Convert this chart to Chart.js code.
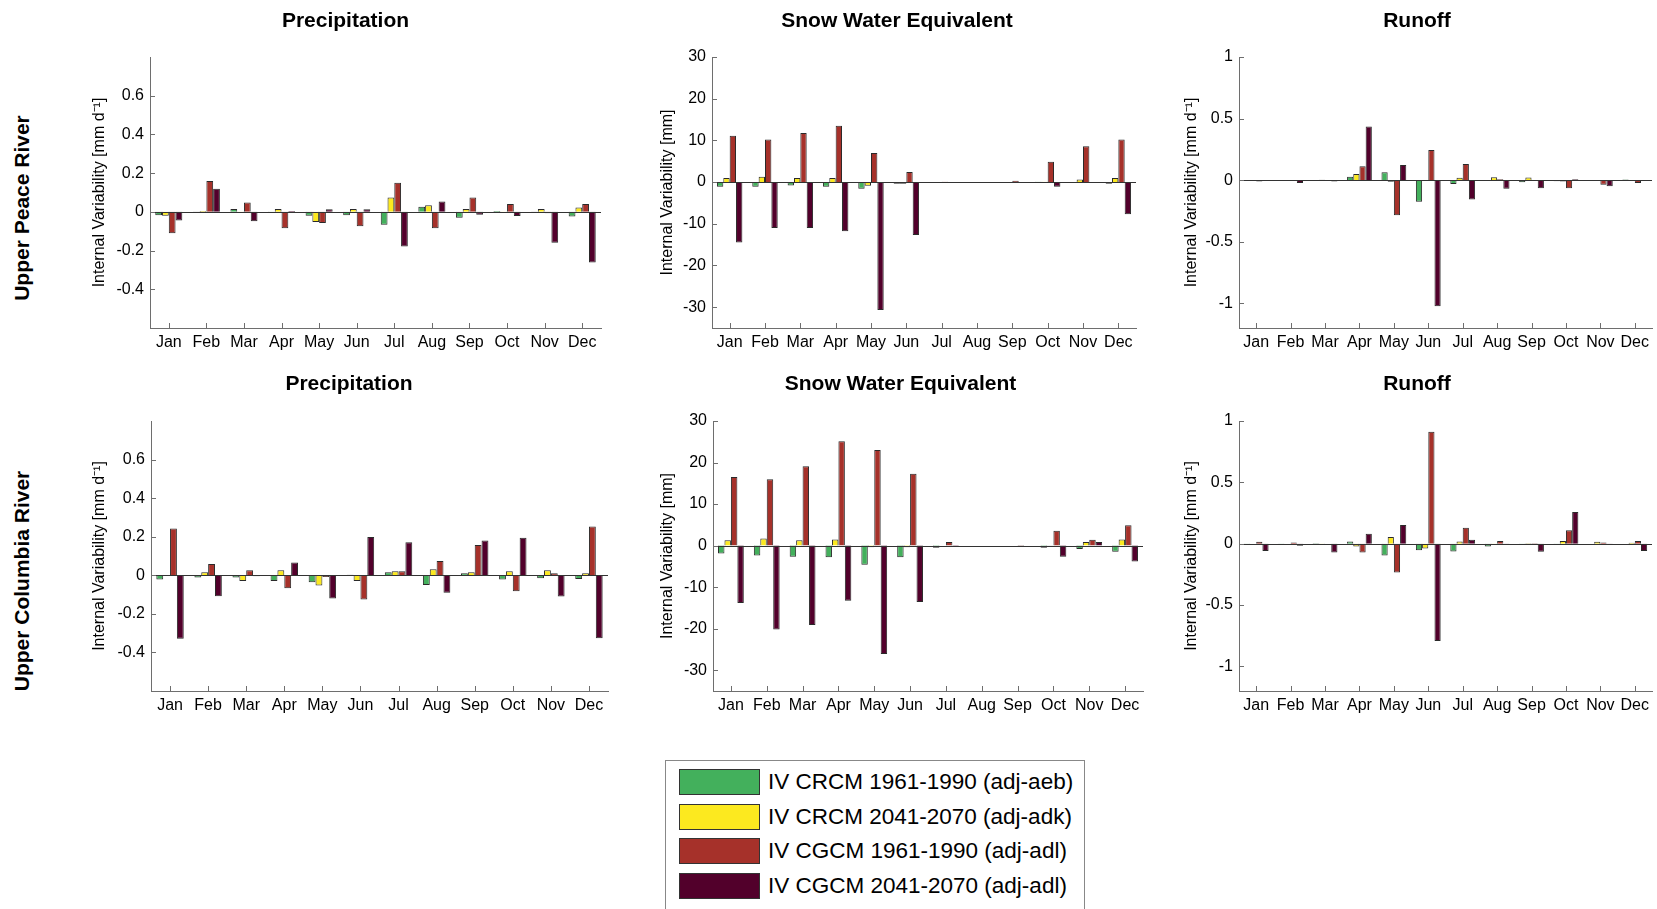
<!DOCTYPE html>
<html>
<head>
<meta charset="utf-8">
<script src="https://cdn.jsdelivr.net/npm/chart.js@4.4.0/dist/chart.umd.min.js"></script>
<style>
  body { margin: 0; width: 1657px; height: 909px; overflow: hidden; position: relative; background: #fff;
         font-family: "Liberation Sans", Arial, Helvetica, sans-serif; }
  canvas { position: absolute; }
  .rowlab { position: absolute; font-weight: bold; font-size: 21px; white-space: nowrap; color: #000;
            transform: translate(-50%, -50%) rotate(-90deg); }
  #legend { position: absolute; left: 665px; top: 760px; width: 420px; height: 170px; border: 1px solid #888;
            box-sizing: border-box; background: #fff; }
  .sw { position: absolute; left: 13px; width: 81px; height: 26px; box-sizing: border-box; border: 1px solid #333; }
  .lt { position: absolute; left: 102px; height: 26px; line-height: 26px; font-size: 22.5px; white-space: nowrap; color: #000; }
</style>
</head>
<body>
<div class="rowlab" style="left:22px;top:208px">Upper Peace River</div>
<div class="rowlab" style="left:22px;top:581px">Upper Columbia River</div>
<div id="legend"></div>
<script>
// months + series
const months = ['Jan', 'Feb', 'Mar', 'Apr', 'May', 'Jun', 'Jul', 'Aug', 'Sep', 'Oct', 'Nov', 'Dec'];
const seriesLabels = ['IV CRCM 1961-1990 (adj-aeb)', 'IV CRCM 2041-2070 (adj-adk)',
                      'IV CGCM 1961-1990 (adj-adl)', 'IV CGCM 2041-2070 (adj-adl)'];

// tick labels
const precipTicks = [-0.4, -0.2, 0, 0.2, 0.4, 0.6];
const sweTicks = [-30, -20, -10, 0, 10, 20, 30];
const runoffTicks = [-1, -0.5, 0, 0.5, 1];

// Upper Peace River - precipitation [mm/d]
const peacePrecipCrcmHist = [-0.017, 0.002, 0.015, -0.003, -0.02, -0.017, -0.067, 0.026, -0.031, 0.005, 0.002, -0.024];
const peacePrecipCrcmFut  = [-0.02, 0.005, -0.003, 0.015, -0.052, 0.015, 0.074, 0.034, 0.015, -0.003, 0.015, 0.022];
const peacePrecipCgcmHist = [-0.11, 0.16, 0.048, -0.085, -0.058, -0.074, 0.15, -0.085, 0.074, 0.041, -0.007, 0.041];
const peacePrecipCgcmFut  = [-0.045, 0.12, -0.048, 0.005, 0.013, 0.013, -0.179, 0.053, -0.015, -0.022, -0.159, -0.262];

// Upper Peace River - snow water equivalent [mm]
const peaceSweCrcmHist = [-1.1, -1.1, -0.8, -1.1, -1.6, -0.4, 0, 0, 0, 0.1, -0.2, -0.4];
const peaceSweCrcmFut  = [1.0, 1.3, 1.0, 1.0, -0.9, -0.4, 0, 0, 0, 0.1, 0.6, 1.0];
const peaceSweCgcmHist = [11.1, 10.2, 11.8, 13.5, 7.0, 2.4, 0.1, 0, 0.3, 4.9, 8.6, 10.2];
const peaceSweCgcmFut  = [-14.5, -11.0, -11.0, -11.8, -30.7, -12.7, -0.15, -0.15, -0.15, -1.1, 0, -7.7];

// Upper Peace River - runoff [mm/d]
const peaceRunCrcmHist = [0, 0, 0, 0.027, 0.065, -0.176, -0.03, 0, -0.016, -0.008, 0, 0.005];
const peaceRunCrcmFut  = [0, 0, 0.003, 0.051, -0.013, -0.005, 0.019, 0.024, 0.022, -0.011, 0, 0];
const peaceRunCgcmHist = [-0.01, 0, 0, 0.114, -0.284, 0.246, 0.132, 0.008, -0.005, -0.065, -0.038, -0.022];
const peaceRunCgcmFut  = [-0.005, -0.022, -0.01, 0.435, 0.124, -1.024, -0.157, -0.07, -0.065, 0.008, -0.049, -0.005];

// Upper Columbia River - precipitation [mm/d]
const columbiaPrecipCrcmHist = [-0.022, -0.012, -0.012, -0.029, -0.036, 0.003, 0.016, -0.05, 0.01, -0.022, -0.016, -0.019];
const columbiaPrecipCrcmFut  = [0.001, 0.016, -0.029, 0.026, -0.053, -0.029, 0.021, 0.031, 0.016, 0.021, 0.026, 0.01];
const columbiaPrecipCgcmHist = [0.243, 0.059, 0.026, -0.067, -0.009, -0.126, 0.021, 0.074, 0.157, -0.083, 0.01, 0.253];
const columbiaPrecipCgcmFut  = [-0.329, -0.109, -0.005, 0.066, -0.121, 0.198, 0.171, -0.09, 0.181, 0.195, -0.11, -0.326];

// Upper Columbia River - snow water equivalent [mm]
const columbiaSweCrcmHist = [-1.9, -2.4, -2.7, -2.8, -4.6, -2.8, -0.5, 0, 0, -0.5, -0.8, -1.5];
const columbiaSweCrcmFut  = [1.3, 1.7, 1.3, 1.5, -0.4, -0.4, 0, 0, 0, 0.1, 0.9, 1.5];
const columbiaSweCgcmHist = [16.5, 16.0, 19.1, 25.1, 23.0, 17.3, 0.9, 0, -0.1, 3.6, 1.4, 4.9];
const columbiaSweCgcmFut  = [-13.8, -20.2, -19.1, -13.3, -26.1, -13.6, -0.3, 0, 0, -2.7, 0.9, -3.8];

// Upper Columbia River - runoff [mm/d]
const columbiaRunCrcmHist = [-0.005, -0.003, 0.003, 0.019, -0.095, -0.054, -0.063, -0.022, -0.011, -0.005, 0, 0];
const columbiaRunCrcmFut  = [0, 0, -0.008, -0.022, 0.054, -0.038, 0.019, -0.003, 0.003, 0.022, 0.016, 0.008];
const columbiaRunCgcmHist = [0.016, 0.011, 0, -0.071, -0.234, 0.913, 0.13, 0.022, 0.003, 0.109, 0.011, 0.022];
const columbiaRunCgcmFut  = [-0.06, -0.016, -0.071, 0.082, 0.152, -0.793, 0.033, -0.011, -0.065, 0.258, -0.005, -0.06];

const seriesColors = ['#43b05c', '#fce91f', '#a6312a', '#52002b'];
const axisColor = '#6e6e6e';
const FONT = '"Liberation Sans", Arial, Helvetica, sans-serif';

// inward tick marks and bar baseline, like matlab
const innerTicks = {
  id: 'innerTicks',
  afterDatasetsDraw(chart) {
    const { ctx, chartArea: a, scales: { x, y } } = chart;
    ctx.save();
    ctx.lineWidth = 1;
    const y0 = Math.round(y.getPixelForValue(0)) + 0.5;
    ctx.strokeStyle = '#333';
    ctx.beginPath();
    ctx.moveTo(a.left, y0);
    ctx.lineTo(a.right, y0);
    ctx.stroke();
    ctx.strokeStyle = axisColor;
    ctx.beginPath();
    y.ticks.forEach(t => {
      const py = Math.round(y.getPixelForValue(t.value)) + 0.5;
      ctx.moveTo(a.left, py);
      ctx.lineTo(a.left + 5, py);
    });
    x.ticks.forEach((t, i) => {
      const px = Math.round(x.getPixelForTick(i)) + 0.5;
      ctx.moveTo(px, a.bottom);
      ctx.lineTo(px, a.bottom - 5);
    });
    ctx.stroke();
    ctx.restore();
  }
};

function makePanel(p) {
  const left = Math.round(p.yTitleX - 9.6);
  const top = Math.round(p.titleY - 14.6);
  const w = Math.round(p.right + 5 - left);
  const h = Math.round(p.bottom + 36 - top);
  const cv = document.createElement('canvas');
  cv.width = w;
  cv.height = h;
  cv.style.left = left + 'px';
  cv.style.top = top + 'px';
  cv.style.width = w + 'px';
  cv.style.height = h + 'px';
  document.body.appendChild(cv);

  new Chart(cv, {
    type: 'bar',
    data: {
      labels: months,
      datasets: p.values.map((v, i) => ({
        label: seriesLabels[i],
        data: v,
        backgroundColor: seriesColors[i],
        borderColor: '#2a2a2a',
        borderWidth: 1,
        categoryPercentage: 0.72,
        barPercentage: 1
      }))
    },
    options: {
      responsive: false,
      animation: false,
      devicePixelRatio: 1,
      layout: { padding: { left: 0, right: 5, top: 0, bottom: 0 } },
      plugins: {
        legend: { display: false },
        tooltip: { enabled: false },
        title: {
          display: true,
          text: p.title,
          color: '#000',
          font: { family: FONT, size: 21, weight: 'bold', lineHeight: 1.2 },
          padding: { top: 2, bottom: p.top - top - 2 - 25.2 }
        }
      },
      scales: {
        x: {
          grid: { display: false, drawTicks: false },
          border: { display: true, color: axisColor },
          ticks: { color: '#000', font: { family: FONT, size: 16 }, padding: 5, maxRotation: 0, autoSkip: false },
          afterFit: s => { s.height = 36; }
        },
        y: {
          min: p.min,
          max: p.max,
          grid: { display: false, drawTicks: false },
          border: { display: true, color: axisColor },
          afterBuildTicks: s => { s.ticks = p.ticks.map(v => ({ value: v })); },
          ticks: { color: '#000', font: { family: FONT, size: 16 }, padding: 6, callback: v => String(v) },
          title: { display: true, text: p.yTitle, color: '#000', padding: 0,
                   font: { family: FONT, size: 16, lineHeight: 1.2 } },
          afterFit: s => { s.width = p.axisX - left; }
        }
      }
    },
    plugins: [innerTicks]
  });
}

const precipTitle = 'Internal Variability [mm d\u207B\u00B9]';
const sweTitle = 'Internal Variability [mm]';

makePanel({ title: 'Precipitation', yTitle: precipTitle, min: -0.6, max: 0.8, ticks: precipTicks,
  values: [peacePrecipCrcmHist, peacePrecipCrcmFut, peacePrecipCgcmHist, peacePrecipCgcmFut],
  yTitleX: 100, axisX: 150, right: 601, titleY: 22, top: 57, bottom: 328 });
makePanel({ title: 'Snow Water Equivalent', yTitle: sweTitle, min: -35, max: 30, ticks: sweTicks,
  values: [peaceSweCrcmHist, peaceSweCrcmFut, peaceSweCgcmHist, peaceSweCgcmFut],
  yTitleX: 668, axisX: 712, right: 1136, titleY: 22, top: 57, bottom: 328 });
makePanel({ title: 'Runoff', yTitle: precipTitle, min: -1.2, max: 1, ticks: runoffTicks,
  values: [peaceRunCrcmHist, peaceRunCrcmFut, peaceRunCgcmHist, peaceRunCgcmFut],
  yTitleX: 1192, axisX: 1239, right: 1652, titleY: 22, top: 57, bottom: 328 });

makePanel({ title: 'Precipitation', yTitle: precipTitle, min: -0.6, max: 0.8, ticks: precipTicks,
  values: [columbiaPrecipCrcmHist, columbiaPrecipCrcmFut, columbiaPrecipCgcmHist, columbiaPrecipCgcmFut],
  yTitleX: 100, axisX: 151, right: 608, titleY: 385, top: 421, bottom: 691 });
makePanel({ title: 'Snow Water Equivalent', yTitle: sweTitle, min: -35, max: 30, ticks: sweTicks,
  values: [columbiaSweCrcmHist, columbiaSweCrcmFut, columbiaSweCgcmHist, columbiaSweCgcmFut],
  yTitleX: 668, axisX: 713, right: 1143, titleY: 385, top: 421, bottom: 691 });
makePanel({ title: 'Runoff', yTitle: precipTitle, min: -1.2, max: 1, ticks: runoffTicks,
  values: [columbiaRunCrcmHist, columbiaRunCrcmFut, columbiaRunCgcmHist, columbiaRunCgcmFut],
  yTitleX: 1192, axisX: 1239, right: 1652, titleY: 385, top: 421, bottom: 691 });

// legend box at the bottom
const legend = document.getElementById('legend');
seriesLabels.forEach((lab, i) => {
  const top = 8 + i * 34.7;
  const sw = document.createElement('div');
  sw.className = 'sw';
  sw.style.top = top + 'px';
  sw.style.background = seriesColors[i];
  legend.appendChild(sw);
  const t = document.createElement('div');
  t.className = 'lt';
  t.style.top = top + 'px';
  t.textContent = lab;
  legend.appendChild(t);
});
</script>
</body>
</html>
